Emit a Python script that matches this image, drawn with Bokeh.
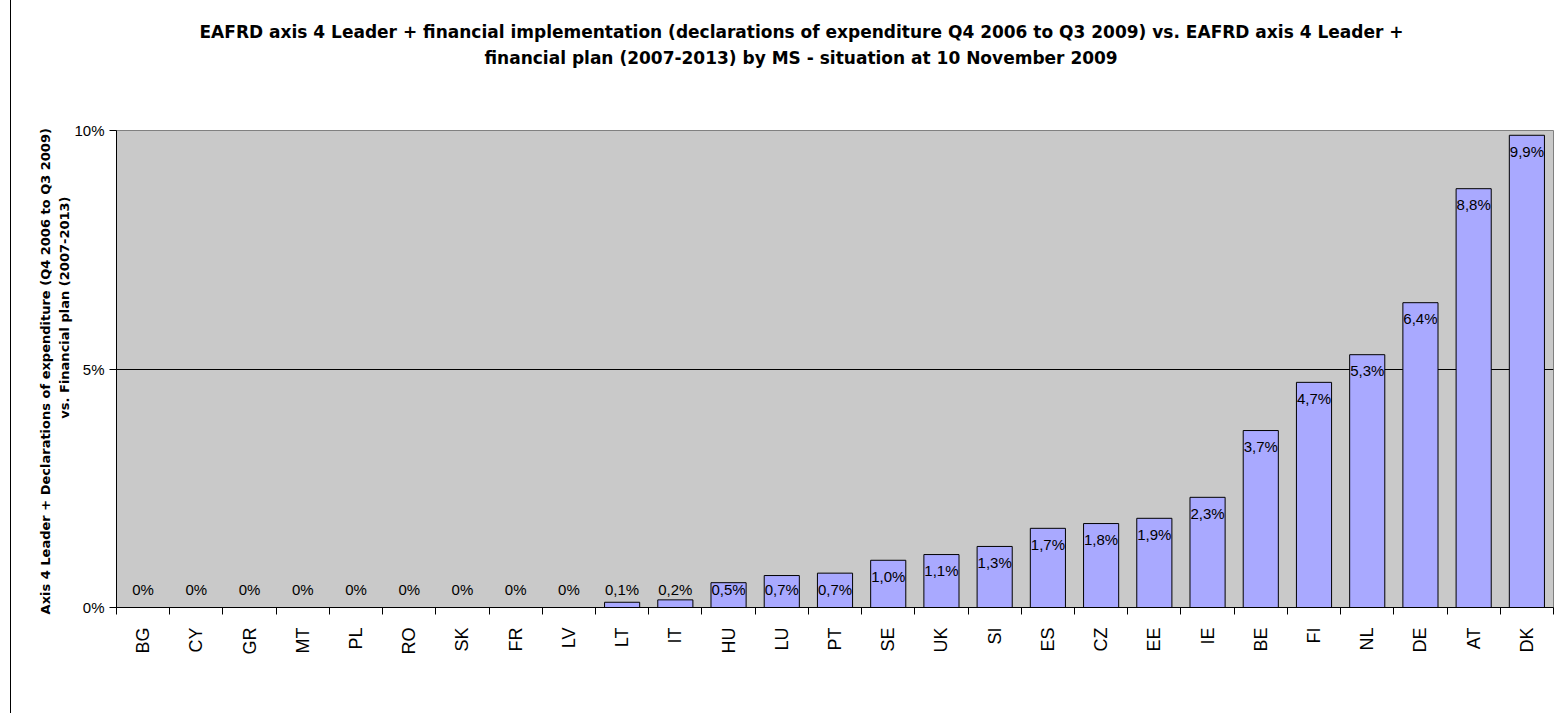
import math
from bokeh.plotting import figure
from bokeh.models import (ColumnDataSource, Range1d, FixedTicker, Title,
                          CustomJSTickFormatter)
from bokeh.core.properties import value
from bokeh.embed import file_html
from bokeh.resources import INLINE

# ---- data ----
countries = ["BG", "CY", "GR", "MT", "PL", "RO", "SK", "FR", "LV", "LT", "IT",
             "HU", "LU", "PT", "SE", "UK", "SI", "ES", "CZ", "EE", "IE", "BE",
             "FI", "NL", "DE", "AT", "DK"]
values = [0.0, 0.0, 0.0, 0.0, 0.0, 0.0, 0.0, 0.0, 0.0, 0.11, 0.16,
          0.52, 0.67, 0.72, 0.99, 1.11, 1.28, 1.66, 1.76, 1.87, 2.31, 3.71,
          4.72, 5.30, 6.39, 8.78, 9.90]
y_ticks = [0, 5, 10]
y_tick_labels = ["0%", "5%", "10%"]

title_lines = [
    "EAFRD axis 4 Leader + financial implementation (declarations of expenditure Q4 2006 to Q3 2009) vs. EAFRD axis 4 Leader +",
    "financial plan (2007-2013) by MS - situation at 10 November 2009",
]
ylabel_lines = [
    "Axis 4 Leader + Declarations of  expenditure (Q4 2006 to Q3 2009)",
    "vs. Financial plan (2007-2013)",
]

FONT = "Liberation Sans"
BOLD_FONT = "DejaVu Sans"


def fmt(v):
    if v == 0:
        return "0%"
    return ("%.1f%%" % v).replace(".", ",")


n = len(countries)
xs = [i + 0.5 for i in range(n)]
labels = [fmt(v) for v in values]
label_y = [max(v, 0.713) for v in values]

src = ColumnDataSource(dict(x=xs, top=values, lab=labels, ly=label_y))

p = figure(width=1546, height=713, output_backend="svg", toolbar_location=None,
           x_range=Range1d(0, n), y_range=Range1d(0, 10),
           min_border_left=105, min_border_right=4, min_border_top=130,
           min_border_bottom=106)
p.background_fill_color = "#C9C9C9"
p.border_fill_color = "white"
p.outline_line_color = "#808080"
p.outline_line_width = 1
p.styles = {"border-left": "1px solid black", "margin-left": "10px"}

p.vbar(x="x", top="top", bottom=0, width=0.66, source=src,
       fill_color="#A9A9FF", line_color="black", line_width=1)

p.text(x="x", y="ly", text="lab", source=src, text_align="center",
       text_baseline="middle", y_offset=16, text_font=value(FONT),
       text_font_size="15px", text_color="black")

# grid
p.xgrid.visible = False
p.ygrid.ticker = FixedTicker(ticks=[5])
p.ygrid.grid_line_color = "black"
p.ygrid.grid_line_width = 1

# y axis
p.yaxis.ticker = FixedTicker(ticks=y_ticks)
p.yaxis.formatter = CustomJSTickFormatter(args=dict(vals=y_ticks, labs=y_tick_labels),
                                          code="return labs[vals.indexOf(tick)] || '';")
p.yaxis.major_tick_out = 7
p.yaxis.major_tick_in = 0
p.yaxis.minor_tick_line_color = None
p.yaxis.axis_line_color = "black"
p.yaxis.major_label_text_font = FONT
p.yaxis.major_label_text_font_size = "15px"
p.yaxis.major_label_text_color = "black"
p.yaxis.major_label_standoff = 5

# x axis
p.xaxis.ticker = FixedTicker(ticks=xs, minor_ticks=list(range(n + 1)))
p.xaxis.formatter = CustomJSTickFormatter(args=dict(names=countries),
                                          code="return names[Math.floor(tick)] || '';")
p.xaxis.major_tick_in = 0
p.xaxis.major_tick_out = 0
p.xaxis.minor_tick_in = 0
p.xaxis.minor_tick_out = 7
p.xaxis.minor_tick_line_color = "black"
p.xaxis.axis_line_color = "black"
p.xaxis.major_label_orientation = math.pi / 2
p.xaxis.major_label_standoff = 13
p.xaxis.major_label_text_font = FONT
p.xaxis.major_label_text_font_size = "18px"
p.xaxis.major_label_text_color = "black"

# chart title: spacer closest to the frame, then second line, then first line
p.add_layout(Title(text=" ", standoff=50, text_font=FONT, text_font_size="10px",
                   text_color="white"), "above")
p.add_layout(Title(text=title_lines[1], align="left", offset=368, standoff=0,
                   vertical_align="bottom", text_font=BOLD_FONT,
                   text_font_size="17px", text_font_style="bold",
                   text_color="black"), "above")
p.add_layout(Title(text=title_lines[0], align="left", offset=83, standoff=8,
                   vertical_align="bottom", text_font=BOLD_FONT,
                   text_font_size="17px", text_font_style="bold",
                   text_color="black"), "above")

# y-axis title as two vertical titles on the left
p.add_layout(Title(text=ylabel_lines[1], align="right", offset=66, standoff=0,
                   text_font=BOLD_FONT, text_font_size="13px", text_font_style="bold",
                   text_color="black"), "left")
p.add_layout(Title(text=ylabel_lines[0], align="center", standoff=4,
                   text_font=BOLD_FONT, text_font_size="13px", text_font_style="bold",
                   text_color="black"), "left")

open("out.html", "w").write(file_html(p, INLINE))
